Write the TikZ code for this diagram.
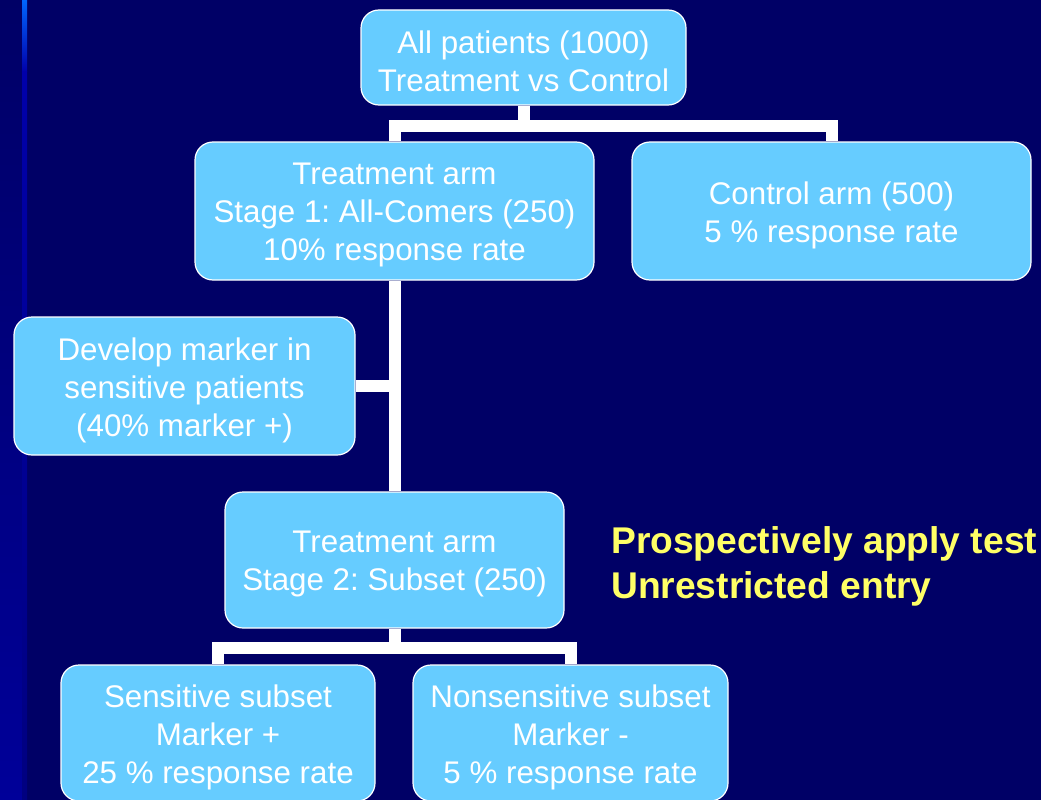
\documentclass[tikz,border=0pt]{standalone}
\usepackage{fontspec}
\setmainfont{Liberation Sans}
\frenchspacing
\definecolor{bgnavy}{HTML}{000066}
\definecolor{boxblue}{HTML}{66CCFF}
\definecolor{txtyellow}{HTML}{FFFF66}
\begin{document}
\begin{tikzpicture}[x=1pt,y=-1pt,
  box/.style={draw=white,line width=1.2pt,fill=boxblue,rounded corners=18pt,inner sep=0pt},
  boxtext/.style={text=white,align=center,inner sep=0pt,
    font=\fontsize{31.3}{38}\selectfont},
  link/.style={draw=white,line width=12pt}]
\useasboundingbox (0,0) rectangle (1041,800);
\fill[bgnavy] (0,0) rectangle (1041,800);
\shade[top color=bgnavy,bottom color={rgb,255:red,0;green,0;blue,153}] (0,0) rectangle (22,800);
\shade[top color={rgb,255:red,0;green,102;blue,255},bottom color={rgb,255:red,0;green,0;blue,170}] (22,0) rectangle (27,72);
\shade[top color={rgb,255:red,0;green,0;blue,170},bottom color={rgb,255:red,0;green,0;blue,128}] (22,72) rectangle (27,800);

\node[box,minimum width=325pt,minimum height=95pt] (all) at (523.5,57.5) {};
\node[box,minimum width=399pt,minimum height=138pt] (t1) at (394.5,211) {};
\node[box,minimum width=399pt,minimum height=138pt] (ctl) at (831.5,211) {};
\node[box,minimum width=341pt,minimum height=138pt] (dev) at (184.5,386) {};
\node[box,minimum width=339pt,minimum height=136pt] (t2) at (394.5,560) {};
\node[box,minimum width=314pt,minimum height=136pt] (sens) at (218,733) {};
\node[box,minimum width=315pt,minimum height=136pt] (nons) at (570.5,733) {};

\node[boxtext] (allT) at ([yshift=-4pt]all.center) {All patients (1000)\\Treatment vs Control};
\node[boxtext] (t1T) at ([yshift=-4pt]t1.center) {Treatment arm\\Stage 1: All-Comers (250)\\10\% response rate};
\node[boxtext] (ctlT) at ([yshift=-4pt]ctl.center) {Control arm (500)\\5 \% response rate};
\node[boxtext] (devT) at ([yshift=-4pt]dev.center) {Develop marker in\\sensitive patients\\(40\% marker +)};
\node[boxtext] (t2T) at ([yshift=-4pt]t2.center) {Treatment arm\\Stage 2: Subset (250)};
\node[boxtext] (sensT) at ([yshift=-4pt]sens.center) {Sensitive subset\\Marker +\\25 \% response rate};
\node[boxtext] (nonsT) at ([yshift=-4pt]nons.center) {Nonsensitive subset\\Marker -\\5 \% response rate};

\draw[link] (all.south) -- ++(0,20) -| (t1.north);
\draw[link] (all.south) ++(0,20) -| (ctl.north);
\draw[link] (t1.south) -- (t2.north);
\draw[link] (dev.east) -- (dev.east -| t1.south);
\draw[link] (t2.south) -- ++(0,19.5) -| (sens.north);
\draw[link] (t2.south) ++(0,19.5) -| (nons.north);

\node[anchor=base west,inner sep=0pt,text=txtyellow,font=\bfseries\fontsize{37.2}{45}\selectfont] (pa) at (611,553) {Prospectively apply test};
\node[anchor=base west,inner sep=0pt,text=txtyellow,font=\bfseries\fontsize{37.2}{45}\selectfont] (ue) at (611,598) {Unrestricted entry};
\end{tikzpicture}
\end{document}
